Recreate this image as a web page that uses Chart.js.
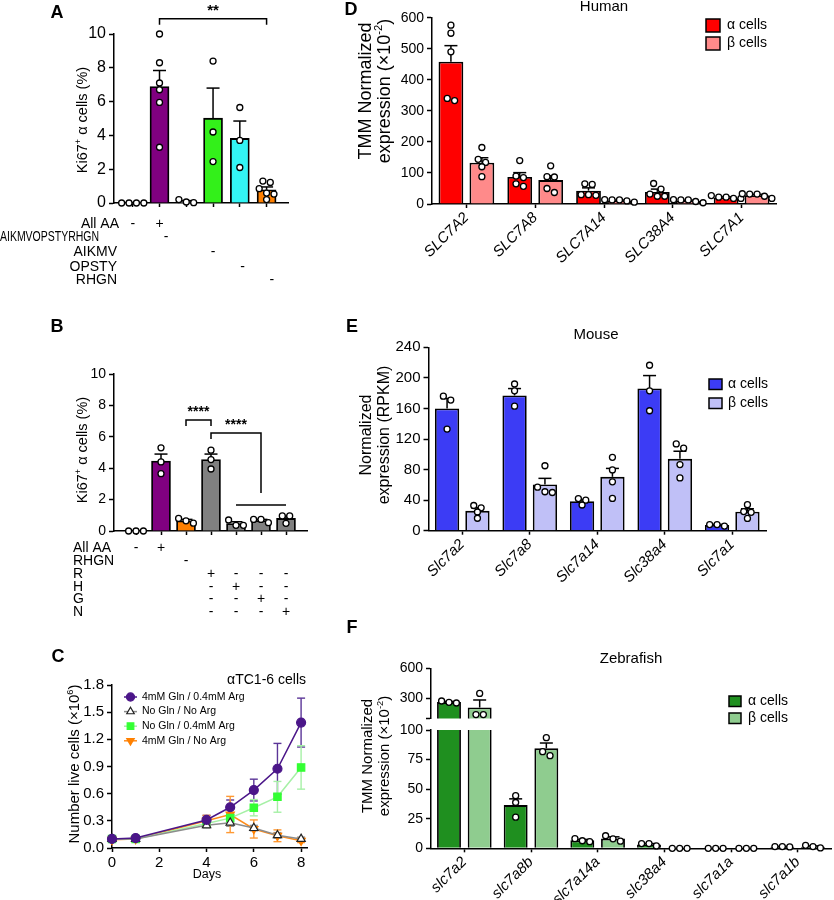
<!DOCTYPE html>
<html>
<head>
<meta charset="utf-8">
<script src="https://cdn.jsdelivr.net/npm/chart.js@4.4.0/dist/chart.umd.min.js"></script>
<style>
  body { margin: 0; background: #fff; width: 834px; height: 900px; overflow: hidden; position: relative; }
  canvas { position: absolute; }
</style>
</head>
<body>
<script>
const FONT = "'Liberation Sans', Arial, sans-serif";
Chart.defaults.font.family = FONT;
Chart.defaults.color = '#000';

// ---------- A: Ki67+ alpha cells, amino acid drop-outs ----------
const A_groups = ['None', 'All AA', 'AIKMVOPSTYRHGN', 'AIKMV', 'OPSTY', 'RHGN'];
const A_means = [0, 6.89, 0.09, 5.02, 3.82, 0.78];
const A_sem = [0, 0.95, 0.05, 1.78, 1.03, 0.17];
const A_dots = [[0, 0, 0, 0], [10.0, 8.3, 7.1, 6.7, 5.95, 3.3], [0.02, 0.2, 0.06], [8.4, 4.2, 2.45], [5.65, 3.7, 2.1], [1.3, 1.22, 0.85, 0.59, 0.53, 0.2]];
const A_colors = ['#ffffff', '#800080', '#ffffff', '#33f01a', '#33f5f5', '#ff8000'];
const A_yTicks = [0, 2, 4, 6, 8, 10];
const A_rows = ['All AA', 'AIKMVOPSTYRHGN', 'AIKMV', 'OPSTY', 'RHGN'];
const A_signs = [[['-', 0], ['+', 1]], [['-', 1.25]], [['-', 3]], [['-', 4.1]], [['-', 5.2]]];

// ---------- B: single amino acid add-back ----------
const B_groups = ['None', 'All AA', 'RHGN', 'R', 'H', 'G', 'N'];
const B_means = [0, 4.45, 0.65, 4.55, 0.47, 0.67, 0.8];
const B_sem = [0, 0.45, 0.09, 0.35, 0.12, 0.07, 0.15];
const B_dots = [[0, 0, 0], [5.3, 4.4, 3.65], [0.5, 0.8, 0.65], [5.15, 4.55, 3.95], [0.36, 0.7, 0.36], [0.53, 0.74, 0.74], [0.96, 0.49, 0.96]];
const B_colors = ['#ffffff', '#800080', '#ff8000', '#808080', '#808080', '#808080', '#808080'];
const B_yTicks = [0, 2, 4, 6, 8, 10];
const B_rows = ['All AA', 'RHGN', 'R', 'H', 'G', 'N'];
const B_signs = [
  ['-', '+', '', '', '', '', ''],
  ['', '', '-', '', '', '', ''],
  ['', '', '', '+', '-', '-', '-'],
  ['', '', '', '-', '+', '-', '-'],
  ['', '', '', '-', '-', '+', '-'],
  ['', '', '', '-', '-', '-', '+']
];

// ---------- C: growth curves ----------
const C_days = [0, 1, 4, 5, 6, 7, 8];
const C_glnArg = [0.10, 0.11, 0.31, 0.45, 0.64, 0.875, 1.385];
const C_glnArgErr = [0.01, 0.01, 0.05, 0.08, 0.12, 0.28, 0.27];
const C_none = [0.10, 0.10, 0.25, 0.28, 0.22, 0.14, 0.10];
const C_noneErr = [0.01, 0.01, 0.03, 0.04, 0.03, 0.03, 0.02];
const C_argOnly = [0.10, 0.10, 0.27, 0.33, 0.445, 0.565, 0.89];
const C_argOnlyErr = [0.01, 0.01, 0.03, 0.04, 0.09, 0.17, 0.24];
const C_glnOnly = [0.09, 0.10, 0.30, 0.37, 0.21, 0.135, 0.08];
const C_glnOnlyErr = [0.01, 0.02, 0.06, 0.20, 0.10, 0.065, 0.02];
const C_names = ['4mM Gln / 0.4mM Arg', 'No Gln / No Arg', 'No Gln / 0.4mM Arg', '4mM Gln / No Arg'];
const C_xTicks = [0, 2, 4, 6, 8];
const C_yTicks = [0, 0.3, 0.6, 0.9, 1.2, 1.5, 1.8];
const C_yLabels = ['0.0', '0.3', '0.6', '0.9', '1.2', '1.5', '1.8'];

// ---------- D: human ----------
const D_genes = ['SLC7A2', 'SLC7A8', 'SLC7A14', 'SLC38A4', 'SLC7A1'];
const D_alpha = [458, 87, 43, 39, 21];
const D_alphaSem = [52, 14, 9, 9, 2];
const D_beta = [133, 77, 11, 10, 28];
const D_betaSem = [16, 14, 1.5, 2, 3];
const D_alphaDots = [[576, 550, 490, 340, 333], [140, 90, 85, 65, 57], [65, 63, 30, 30, 28], [66, 48, 32, 25, 25], [27, 22, 22, 18, 18]];
const D_betaDots = [[182, 144, 134, 120, 88], [123, 88, 87, 50, 37], [14, 13, 13, 10, 6], [14, 13, 13, 8, 4], [33, 32, 32, 25, 18]];
const D_yTicks = [0, 100, 200, 300, 400, 500, 600];

// ---------- E: mouse ----------
const E_genes = ['Slc7a2', 'Slc7a8', 'Slc7a14', 'Slc38a4', 'Slc7a1'];
const E_alpha = [160, 177, 38.5, 186, 7.5];
const E_alphaSem = [13, 9, 2, 17, 0.7];
const E_beta = [26, 60.5, 70.5, 94, 24.75];
const E_betaSem = [4, 8, 11, 10, 4];
const E_alphaDots = [[176, 171, 133], [192, 183, 163], [42, 40, 33.6], [216.5, 183, 157], [8, 8, 6]];
const E_betaDots = [[33, 30, 24.5, 16.3], [85, 57, 51, 50], [96, 79.5, 64, 42.3], [113.5, 108, 86.5, 69], [34, 25, 24, 16]];
const E_yTicks = [0, 40, 80, 120, 160, 200, 240];

// ---------- F: zebrafish (broken axis) ----------
const F_genes = ['slc7a2', 'slc7a8b', 'slc7a14a', 'slc38a4', 'slc7a1a', 'slc7a1b'];
const F_alpha = [264, 36.5, 6.7, 3.3, 0, 1.4];
const F_alphaSem = [6, 5.3, 0.8, 0.7, 0, 0.1];
const F_beta = [210, 84.5, 8.2, 0, 0, 1.4];
const F_betaSem = [75, 4.5, 1.5, 0, 0, 0.6];
const F_alphaDots = [[255, 275, 262], [44.5, 38.7, 26.3], [5.6, 8.1, 6.4], [2, 4, 4], [0, 0, 0], [1.5, 1.5, 1.2]];
const F_betaDots = [[350, 140, 140], [93.5, 78.3, 81.7], [10.6, 8, 6], [0, 0, 0], [0, 0, 0], [0.3, 2.5, 1.5]];
const F_upperTicks = [100, 300, 600];
const F_upperLabels = ['', '300', '600'];
const F_lowerTicks = [0, 25, 50, 75, 100];

// ---------- helpers ----------
function drawText(ctx, t) {
  const size = t.size || 14;
  const parts = typeof t.parts === 'string' ? [[t.parts]] : t.parts;
  const fnt = s => `${t.italic ? 'italic ' : ''}${t.bold ? 'bold ' : ''}${s}px ${FONT}`;
  let w = 0;
  const m = parts.map(p => {
    const s = p[1] === 'sup' ? size * 0.62 : size;
    ctx.font = fnt(s);
    const pw = ctx.measureText(p[0]).width;
    w += pw;
    return { s, pw };
  });
  const sx = t.maxW && w > t.maxW ? t.maxW / w : 1;
  ctx.save();
  ctx.translate(t.x, t.y);
  if (t.rot) ctx.rotate(t.rot * Math.PI / 180);
  ctx.scale(sx, 1);
  let x0 = t.align === 'right' ? -w : t.align === 'left' ? 0 : -w / 2;
  ctx.textBaseline = 'middle';
  ctx.textAlign = 'left';
  ctx.fillStyle = t.color || '#000';
  parts.forEach((p, i) => {
    ctx.font = fnt(m[i].s);
    ctx.fillText(p[0], x0, p[1] === 'sup' ? -size * 0.33 : 0);
    x0 += m[i].pw;
  });
  ctx.restore();
}

function line(ctx, pts, lw, color) {
  ctx.beginPath();
  pts.forEach((p, i) => i ? ctx.lineTo(p[0], p[1]) : ctx.moveTo(p[0], p[1]));
  ctx.lineWidth = lw || 1.5;
  ctx.strokeStyle = color || '#000';
  ctx.stroke();
}

function drawDots(ctx, cx, vals, Y, lo, hi) {
  const r = 3;
  const pys = vals.filter(v => v >= lo && v <= hi).map(Y).sort((a, b) => a - b);
  const rows = [];
  pys.forEach(py => {
    const row = rows[rows.length - 1];
    if (row && py - row[0] < 6) row.push(py); else rows.push([py]);
  });
  const gap = 2 * r + 1.4;
  rows.forEach(row => row.forEach((py, k) => {
    ctx.beginPath();
    ctx.arc(cx + (k - (row.length - 1) / 2) * gap, py, r, 0, 2 * Math.PI);
    ctx.fillStyle = '#fff';
    ctx.fill();
    ctx.lineWidth = 1.3;
    ctx.strokeStyle = '#000';
    ctx.stroke();
  }));
}

function barMarks(ctx, ch, X, Y, box) {
  const ys = ch.scales.y;
  ch.data.datasets.forEach((ds, di) => {
    const meta = ch.getDatasetMeta(di);
    meta.data.forEach((bar, i) => {
      const v = meta.controller.getParsed(i).y;
      const cx = bar.x + box.x;
      const s = ds.sem[i];
      if (s > 0 && v >= ys.min && v <= ys.max) {
        const y0 = Y(v), y1 = Y(v + s);
        line(ctx, [[cx, y0], [cx, y1]]);
        line(ctx, [[cx - 6.5, y1], [cx + 6.5, y1]]);
      }
      drawDots(ctx, cx, ds.dots[i], Y, ys.min, ys.max);
    });
  });
}

function legendSq(ctx, ch, x, y, w, h, dy, tx) {
  ch.data.datasets.forEach((ds, k) => {
    const yy = y + k * dy;
    ctx.fillStyle = ds.backgroundColor;
    ctx.fillRect(x, yy, w, h);
    ctx.lineWidth = 1.5;
    ctx.strokeStyle = '#000';
    ctx.strokeRect(x, yy, w, h);
    drawText(ctx, { parts: ds.label, x: tx, y: yy + h / 2, size: 14, align: 'left' });
  });
}

const gridStyle = { drawOnChartArea: false, tickLength: 5, tickColor: '#000', tickWidth: 1.5, offset: false };
const borderStyle = { color: '#000', width: 1.5 };

function yAx(ticks, size, labels) {
  return {
    min: ticks[0], max: ticks[ticks.length - 1],
    afterBuildTicks: s => { s.ticks = ticks.map(v => ({ value: v })); },
    ticks: { font: { size }, padding: 3, callback: (v, i) => labels ? labels[i] : v },
    grid: gridStyle, border: borderStyle
  };
}

function xLin(min, max, ticks, show, size) {
  return {
    type: 'linear', min, max, offset: false,
    afterBuildTicks: s => { s.ticks = ticks.map(v => ({ value: v })); },
    ticks: { font: { size: size || 14 }, maxRotation: 0, padding: 2, callback: v => show ? v : '' },
    grid: Object.assign({}, gridStyle, { tickLength: 4 }), border: borderStyle
  };
}

function xCat(display) {
  return {
    display, offset: true,
    ticks: { font: { size: 15, style: 'italic' }, minRotation: 45, maxRotation: 45, autoSkip: false, padding: 1 },
    grid: Object.assign({}, gridStyle, { tickLength: 4 }), border: borderStyle
  };
}

let pid = 0;
function panel(box, area, cfg, hooks) {
  const c = document.createElement('canvas');
  c.width = box.w; c.height = box.h;
  c.style.left = box.x + 'px'; c.style.top = box.y + 'px';
  document.body.appendChild(c);
  const o = cfg.options;
  const xHidden = o.scales.x.display === false;
  o.responsive = false;
  o.animation = false;
  o.devicePixelRatio = 1;
  o.layout = { padding: { left: 0, top: area.t - box.y, right: box.x + box.w - area.r, bottom: xHidden ? box.y + box.h - area.b : 0 } };
  o.scales.y.afterFit = s => { s.width = area.l - box.x; };
  if (!xHidden) o.scales.x.afterFit = s => { s.height = box.y + box.h - area.b; };
  o.plugins = { legend: { display: false }, tooltip: { enabled: false } };
  let chart;
  const X = v => chart.scales.x.getPixelForValue(v) + box.x;
  const Y = v => chart.scales.y.getPixelForValue(v) + box.y;
  const wrap = fn => ch => {
    if (!fn) return;
    chart = ch;
    const ctx = ch.ctx;
    ctx.save();
    ctx.translate(-box.x, -box.y);
    fn(ctx, ch, X, Y, box);
    ctx.restore();
  };
  cfg.plugins = [{ id: 'panel' + (++pid), beforeDatasetsDraw: wrap(hooks.before), afterDatasetsDraw: wrap(hooks.marks), afterDraw: wrap(hooks.after) }];
  chart = new Chart(c, cfg);
  return chart;
}

const barStyle = { borderColor: '#000', borderWidth: 1.8 };
const pairStyle = { borderColor: '#000', borderWidth: 1.8, categoryPercentage: 0.9, barPercentage: 0.8, clip: 0 };
const alphaLabel = [['α cells']];
const betaLabel = [['β cells']];

// ---------- Panel A ----------
panel({ x: 0, y: 0, w: 330, h: 290 }, { l: 114, t: 34, r: 288, b: 203 }, {
  type: 'bar',
  data: { datasets: [Object.assign({ data: A_means.map((v, i) => ({ x: i, y: v })), backgroundColor: A_colors, barThickness: 19, sem: A_sem, dots: A_dots }, barStyle)] },
  options: { scales: { x: xLin(-0.7, 5.8, A_groups.map((g, i) => i), false), y: yAx(A_yTicks, 16) } }
}, {
  marks: barMarks,
  after: (ctx, ch, X, Y) => {
    drawText(ctx, { parts: 'A', x: 57, y: 13, size: 18, bold: true });
    drawText(ctx, { parts: [['Ki67'], ['+', 'sup'], [' α cells (%)']], x: 83, y: 120, size: 14.5, rot: -90 });
    line(ctx, [[X(1), Y(10.55)], [X(1), Y(10.9)], [X(5), Y(10.9)], [X(5), Y(10.55)]]);
    drawText(ctx, { parts: '**', x: X(3), y: Y(11.35), size: 15, bold: true });
    const rowY = [224, 237, 252, 267, 280];
    A_rows.forEach((r, k) => {
      if (k === 1) drawText(ctx, { parts: r, x: 0, y: rowY[k], size: 14, align: 'left', maxW: 99 });
      else drawText(ctx, { parts: r, x: k === 0 ? 119 : 117, y: rowY[k], size: 14, align: 'right' });
      A_signs[k].forEach(s => drawText(ctx, { parts: s[0], x: X(s[1]), y: rowY[k], size: 14 }));
    });
  }
});

// ---------- Panel B ----------
panel({ x: 0, y: 290, w: 330, h: 330 }, { l: 114, t: 374, r: 307, b: 531 }, {
  type: 'bar',
  data: { datasets: [Object.assign({ data: B_means.map((v, i) => ({ x: i, y: v })), backgroundColor: B_colors, barThickness: 19, sem: B_sem, dots: B_dots }, barStyle)] },
  options: { scales: { x: xLin(-0.88, 6.84, B_groups.map((g, i) => i), false), y: yAx(B_yTicks, 14) } }
}, {
  marks: barMarks,
  after: (ctx, ch, X, Y) => {
    drawText(ctx, { parts: 'B', x: 57, y: 327, size: 18, bold: true });
    drawText(ctx, { parts: [['Ki67'], ['+', 'sup'], [' α cells (%)']], x: 83, y: 450, size: 14.5, rot: -90 });
    line(ctx, [[X(2), Y(6.69)], [X(2), Y(7.07)], [X(3), Y(7.07)], [X(3), Y(6.69)]]);
    drawText(ctx, { parts: '****', x: X(2.5), y: Y(7.55), size: 14, bold: true });
    line(ctx, [[X(3), Y(5.86)], [X(3), Y(6.24)], [X(5), Y(6.24)], [X(5), Y(2.42)]]);
    drawText(ctx, { parts: '****', x: X(4), y: Y(6.72), size: 14, bold: true });
    line(ctx, [[X(4), Y(1.66)], [X(6), Y(1.66)]]);
    B_rows.forEach((r, k) => {
      const y = 548 + k * 12.9;
      drawText(ctx, { parts: r, x: 73, y, size: 14, align: 'left' });
      B_signs[k].forEach((s, i) => { if (s) drawText(ctx, { parts: s, x: X(i), y, size: 14 }); });
    });
  }
});

// ---------- Panel C ----------
const C_series = [
  { label: C_names[0], vals: C_glnArg, err: C_glnArgErr, line: '#4b1689', fill: '#4b1689', edge: '#4b1689', errColor: '#5b3597', style: 'circle', r: 4.5, rot: 0 },
  { label: C_names[1], vals: C_none, err: C_noneErr, line: '#8c8c8c', fill: '#ffffff', edge: '#222222', errColor: '#8c8c8c', style: 'triangle', r: 4.8, rot: 0 },
  { label: C_names[2], vals: C_argOnly, err: C_argOnlyErr, line: '#a6f0a6', fill: '#33ff33', edge: '#33ff33', errColor: '#a6f0a6', style: 'rect', r: 5.2, rot: 0 },
  { label: C_names[3], vals: C_glnOnly, err: C_glnOnlyErr, line: '#ff8c1a', fill: '#ff8000', edge: '#ff8000', errColor: '#ff9933', style: 'triangle', r: 4.8, rot: 180 }
];
panel({ x: 0, y: 620, w: 330, h: 280 }, { l: 112, t: 685, r: 307, b: 848 }, {
  type: 'line',
  data: {
    datasets: C_series.map(s => ({
      label: s.label, data: C_days.map((d, i) => ({ x: d, y: s.vals[i] })), err: s.err, errColor: s.errColor,
      borderColor: s.line, borderWidth: 1.5, tension: 0, clip: false,
      pointStyle: s.style, pointRadius: s.r, pointRotation: s.rot,
      pointBackgroundColor: s.fill, pointBorderColor: s.edge, pointBorderWidth: 1.2
    }))
  },
  options: { scales: { x: xLin(0, 8.25, C_xTicks, true, 15), y: yAx(C_yTicks, 15, C_yLabels) } }
}, {
  before: (ctx, ch, X, Y) => {
    ch.data.datasets.forEach(ds => ds.data.forEach((p, i) => {
      const e = ds.err[i], x = X(p.x);
      line(ctx, [[x, Y(p.y - e)], [x, Y(p.y + e)]], 1.4, ds.errColor);
      line(ctx, [[x - 4, Y(p.y + e)], [x + 4, Y(p.y + e)]], 1.4, ds.errColor);
      line(ctx, [[x - 4, Y(p.y - e)], [x + 4, Y(p.y - e)]], 1.4, ds.errColor);
    }));
  },
  after: (ctx) => {
    drawText(ctx, { parts: 'C', x: 58, y: 657, size: 18, bold: true });
    drawText(ctx, { parts: [['Number live cells (×10'], ['6', 'sup'], [')']], x: 75, y: 764, size: 15, rot: -90 });
    drawText(ctx, { parts: 'Days', x: 207, y: 875, size: 12.5 });
    drawText(ctx, { parts: 'αTC1-6 cells', x: 306, y: 680, size: 14, align: 'right' });
    C_series.forEach((s, k) => {
      const y = 697 + k * 14.6;
      line(ctx, [[124, y], [137, y]], 1.5, s.line);
      ctx.fillStyle = s.fill;
      ctx.strokeStyle = s.edge;
      ctx.lineWidth = 1.2;
      Chart.helpers.drawPoint(ctx, { pointStyle: s.style, rotation: s.rot, radius: s.r * 0.9, borderWidth: 1.2 }, 130.5, y);
      drawText(ctx, { parts: s.label, x: 142, y, size: 10.5, align: 'left' });
    });
  }
});

// ---------- Panel D ----------
panel({ x: 330, y: 0, w: 504, h: 290 }, { l: 432, t: 17.7, r: 776, b: 204 }, {
  type: 'bar',
  data: {
    labels: D_genes,
    datasets: [
      Object.assign({ label: alphaLabel, data: D_alpha, sem: D_alphaSem, dots: D_alphaDots, backgroundColor: '#ff0000' }, pairStyle),
      Object.assign({ label: betaLabel, data: D_beta, sem: D_betaSem, dots: D_betaDots, backgroundColor: '#ff8a8a' }, pairStyle)
    ]
  },
  options: { scales: { x: xCat(true), y: yAx(D_yTicks, 14) } }
}, {
  marks: barMarks,
  after: (ctx, ch) => {
    drawText(ctx, { parts: 'D', x: 351, y: 10, size: 18, bold: true });
    drawText(ctx, { parts: 'Human', x: 604, y: 7, size: 15 });
    drawText(ctx, { parts: 'TMM Normalized', x: 366, y: 91, size: 18, rot: -90 });
    drawText(ctx, { parts: [['expression (×10'], ['-2', 'sup'], [')']], x: 385, y: 91, size: 18, rot: -90 });
    legendSq(ctx, ch, 706, 19, 14, 13, 18, 727);
  }
});

// ---------- Panel E ----------
panel({ x: 330, y: 290, w: 504, h: 310 }, { l: 428.5, t: 347.3, r: 766, b: 530.7 }, {
  type: 'bar',
  data: {
    labels: E_genes,
    datasets: [
      Object.assign({ label: alphaLabel, data: E_alpha, sem: E_alphaSem, dots: E_alphaDots, backgroundColor: '#3c3cf5' }, pairStyle),
      Object.assign({ label: betaLabel, data: E_beta, sem: E_betaSem, dots: E_betaDots, backgroundColor: '#c0c0f7' }, pairStyle)
    ]
  },
  options: { scales: { x: xCat(true), y: yAx(E_yTicks, 15) } }
}, {
  marks: barMarks,
  after: (ctx, ch) => {
    drawText(ctx, { parts: 'E', x: 352, y: 327, size: 18, bold: true });
    drawText(ctx, { parts: 'Mouse', x: 596, y: 335, size: 15 });
    drawText(ctx, { parts: 'Normalized', x: 367, y: 435, size: 16, rot: -90 });
    drawText(ctx, { parts: 'expression (RPKM)', x: 385, y: 435, size: 16, rot: -90 });
    legendSq(ctx, ch, 709, 379, 13, 10.5, 19, 728);
  }
});

// ---------- Panel F (upper segment 100-600, lower segment 0-100) ----------
function fData() {
  return {
    labels: F_genes,
    datasets: [
      Object.assign({ label: alphaLabel, data: F_alpha, sem: F_alphaSem, dots: F_alphaDots, backgroundColor: '#1f8f1f' }, pairStyle, { categoryPercentage: 0.92, barPercentage: 0.78 }),
      Object.assign({ label: betaLabel, data: F_beta, sem: F_betaSem, dots: F_betaDots, backgroundColor: '#8fcc8f' }, pairStyle, { categoryPercentage: 0.92, barPercentage: 0.78 })
    ]
  };
}
panel({ x: 330, y: 600, w: 504, h: 130 }, { l: 431, t: 668.3, r: 831, b: 720 }, {
  type: 'bar',
  data: fData(),
  options: { scales: { x: xCat(false), y: yAx(F_upperTicks, 14, F_upperLabels) } }
}, { marks: barMarks });

panel({ x: 330, y: 600, w: 504, h: 300 }, { l: 431, t: 730, r: 831, b: 848.3 }, {
  type: 'bar',
  data: fData(),
  options: { scales: { x: xCat(true), y: yAx(F_lowerTicks, 14) } }
}, {
  marks: barMarks,
  after: (ctx, ch) => {
    drawText(ctx, { parts: 'F', x: 352, y: 628, size: 18, bold: true });
    drawText(ctx, { parts: 'Zebrafish', x: 631, y: 659, size: 15 });
    drawText(ctx, { parts: 'TMM Normalized', x: 368, y: 756, size: 15, rot: -90 });
    drawText(ctx, { parts: [['expression (×10'], ['-2', 'sup'], [')']], x: 385, y: 756, size: 15, rot: -90 });
    legendSq(ctx, ch, 729, 696, 12, 10.5, 17, 748);
  }
});
</script>
</body>
</html>
